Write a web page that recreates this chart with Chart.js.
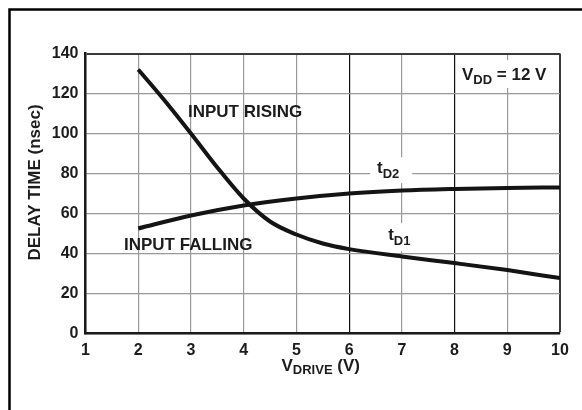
<!DOCTYPE html>
<html>
<head>
<meta charset="utf-8">
<script src="https://cdn.jsdelivr.net/npm/chart.js"></script>
<style>
  html, body { margin: 0; padding: 0; background: #fff; overflow: hidden; }
  canvas { display: block; }
</style>
</head>
<body>
<canvas id="chart" width="582" height="410"></canvas>
<script>
// V_DRIVE (V) sample points
const risingVolts = [2, 2.5, 3, 3.5, 4, 4.5, 5, 5.5, 6, 7, 8, 9, 10];
const risingDelay = [132, 116.5, 100, 83, 67.5, 56, 49.5, 45, 42.2, 38.5, 35.2, 31.7, 27.7]; // tD1
const fallingVolts = [2, 3, 4, 5, 6, 7, 8, 9, 10];
const fallingDelay = [52.5, 59, 64, 67.5, 70, 71.5, 72.3, 72.8, 73]; // tD2

const xTicks = [1, 2, 3, 4, 5, 6, 7, 8, 9, 10];
const yTicks = [0, 20, 40, 60, 80, 100, 120, 140];

const FONT = '"Liberation Sans", Arial, Helvetica, sans-serif';
const INK = "#1c1c1c";
const GRID = "#999";

function toPoints(xs, ys) {
    return xs.map((x, i) => ({ x, y: ys[i] }));
}

// draw text made of parts, e.g. main text + subscript
function drawParts(ctx, x, y, parts) {
    let cx = x;
    parts.forEach(p => {
        ctx.font = "bold " + p.size + "px " + FONT;
        ctx.fillText(p.text, cx, y + (p.dy || 0));
        cx += ctx.measureText(p.text).width;
    });
}

const decorations = {
    id: "decorations",
    beforeDatasetsDraw(chart) {
        const ctx = chart.ctx;
        const xs = chart.scales.x, ys = chart.scales.y;
        ctx.save();
        ctx.fillStyle = "#fff";
        // white boxes behind the in-plot labels
        ctx.fillRect(xs.getPixelForValue(6.40), ys.getPixelForValue(88.2), 42, 26);
        ctx.fillRect(xs.getPixelForValue(6.68), ys.getPixelForValue(55.2), 30, 28);
        ctx.fillRect(xs.getPixelForValue(8.05), ys.getPixelForValue(136.7), 100, 28);
        ctx.restore();
    },
    afterDraw(chart) {
        const ctx = chart.ctx;
        const xs = chart.scales.x, ys = chart.scales.y;
        ctx.save();
        ctx.fillStyle = INK;
        ctx.textBaseline = "alphabetic";
        ctx.textAlign = "left";

        drawParts(ctx, xs.getPixelForValue(2.944), ys.getPixelForValue(108.1), [{ text: "INPUT RISING", size: 17 }]);
        drawParts(ctx, xs.getPixelForValue(1.73), ys.getPixelForValue(41.7), [{ text: "INPUT FALLING", size: 17 }]);
        drawParts(ctx, xs.getPixelForValue(6.53), ys.getPixelForValue(80.1), [
            { text: "t", size: 17 }, { text: "D2", size: 13, dy: 4.5 }
        ]);
        drawParts(ctx, xs.getPixelForValue(6.74), ys.getPixelForValue(46.7), [
            { text: "t", size: 17 }, { text: "D1", size: 13, dy: 5 }
        ]);
        drawParts(ctx, xs.getPixelForValue(8.14), ys.getPixelForValue(126.7), [
            { text: "V", size: 17 }, { text: "DD", size: 13, dy: 3.5 }, { text: " = 12 V", size: 17 }
        ]);

        // x axis title
        drawParts(ctx, 281.5, 371, [
            { text: "V", size: 17 }, { text: "DRIVE", size: 13, dy: 2.5 }, { text: " (V)", size: 17 }
        ]);

        // y axis title
        ctx.save();
        ctx.translate(39.5, 182.5);
        ctx.rotate(-Math.PI / 2);
        ctx.textAlign = "center";
        ctx.font = "bold 17px " + FONT;
        ctx.fillText("DELAY TIME (nsec)", 0, 0);
        ctx.restore();

        // outer frame: only top and left edges are in view
        ctx.strokeStyle = "#000";
        ctx.lineWidth = 2.5;
        ctx.beginPath();
        ctx.moveTo(9.5, 410);
        ctx.lineTo(9.5, 9.5);
        ctx.lineTo(582, 9.5);
        ctx.stroke();
        ctx.restore();
    }
};

new Chart(document.getElementById("chart"), {
    type: "line",
    data: {
        datasets: [{
            label: "tD1 (input rising)",
            data: toPoints(risingVolts, risingDelay),
            borderColor: "#141414",
            borderWidth: 4,
            cubicInterpolationMode: "monotone",
            pointRadius: 0,
            fill: false
        }, {
            label: "tD2 (input falling)",
            data: toPoints(fallingVolts, fallingDelay),
            borderColor: "#141414",
            borderWidth: 4,
            cubicInterpolationMode: "monotone",
            pointRadius: 0,
            fill: false
        }]
    },
    options: {
        responsive: false,
        animation: false,
        devicePixelRatio: 1,
        layout: { padding: { left: 0, right: 22, top: 53.5, bottom: 0 } },
        plugins: {
            legend: { display: false },
            tooltip: { enabled: false }
        },
        scales: {
            x: {
                type: "linear",
                min: 1,
                max: 10,
                afterFit: s => { s.height = 76.5; },
                afterBuildTicks: s => { s.ticks = xTicks.map(v => ({ value: v })); },
                ticks: {
                    padding: 7,
                    color: INK,
                    font: { family: FONT, size: 16, weight: "bold" },
                    maxRotation: 0
                },
                grid: {
                    drawTicks: false,
                    color: c => (c.tick.value === 6 || c.tick.value === 8) ? "#111" : (c.tick.value === 10 ? "#3a3a3a" : GRID),
                    lineWidth: c => c.tick.value === 10 ? 2 : 1.2
                },
                border: { color: "#1a1a1a", width: 2.5 }
            },
            y: {
                min: 0,
                max: 140,
                afterFit: s => { s.width = 85.5; },
                afterBuildTicks: s => { s.ticks = yTicks.map(v => ({ value: v })); },
                ticks: {
                    padding: 7,
                    color: INK,
                    font: { family: FONT, size: 16, weight: "bold" }
                },
                grid: {
                    drawTicks: false,
                    color: c => c.tick.value === 140 ? "#3a3a3a" : GRID,
                    lineWidth: c => c.tick.value === 140 ? 2 : 1.2
                },
                border: { color: "#1a1a1a", width: 2.5 }
            }
        }
    },
    plugins: [decorations]
});
</script>
</body>
</html>
